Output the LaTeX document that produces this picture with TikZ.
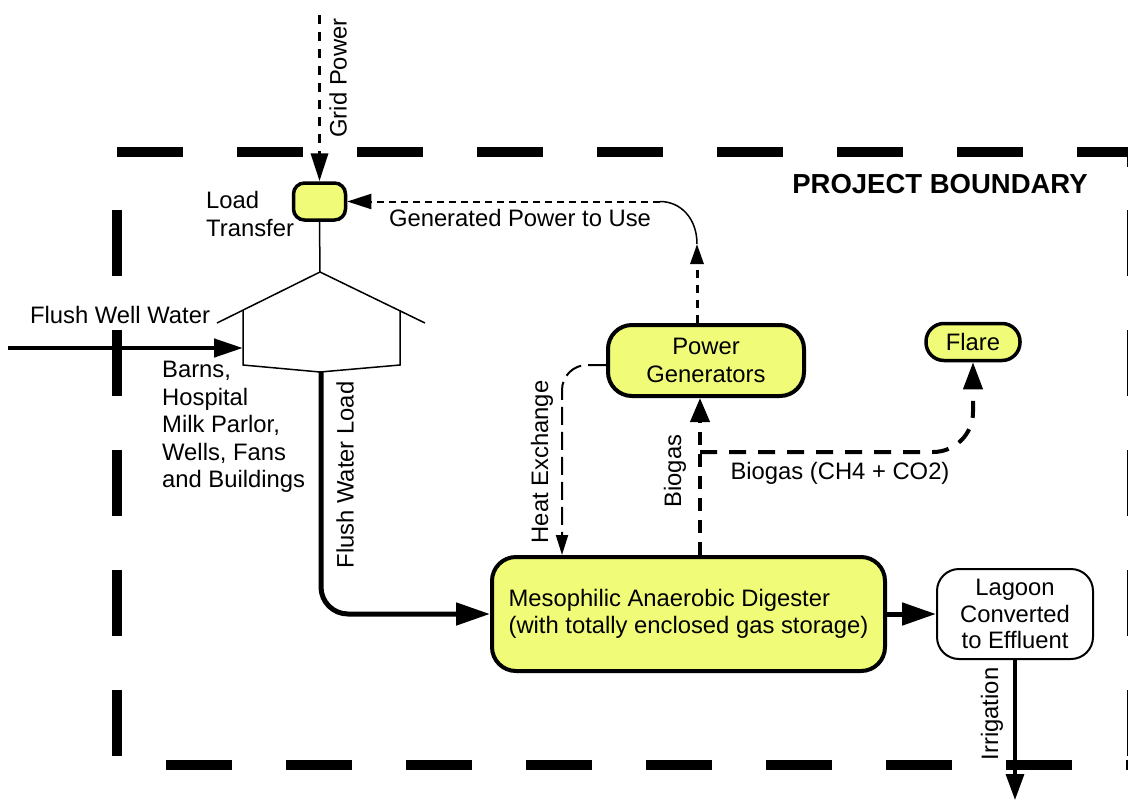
\documentclass[tikz,border=0pt]{standalone}
\usepackage{fontspec}
\setmainfont{Liberation Sans}
\usetikzlibrary{arrows.meta}
\definecolor{boxyellow}{RGB}{240,252,120}
\begin{document}
\begin{tikzpicture}[x=1pt,y=-1pt,
  lbl/.style={font=\fontsize{23.8}{27.5}\selectfont, inner sep=0pt},
  ybox/.style={draw, fill=boxyellow, line width=4pt, font=\fontsize{23.8}{27.5}\selectfont, inner sep=0pt},
  bnd/.style={line width=10pt, dash pattern=on 66pt off 54pt},
  thickflow/.style={line width=5pt, -{Triangle[length=34pt,width=22pt]}},
]
\useasboundingbox (0,0) rectangle (1128,801);

% project boundary
\begin{scope}
\clip (0,0) rectangle (1128,801);
\draw[bnd] (117,152) -- (1140,152);
\draw[bnd] (117,210) -- (117,770);
\draw[bnd] (166,765) -- (1140,765);
\draw[line width=10pt] (1132,147) -- (1132,167);
\draw[bnd] (1132,210) -- (1132,770);
\end{scope}
\node[font=\bfseries\fontsize{27.5}{30}\selectfont, inner sep=0pt] (pb) at (940,184) {PROJECT BOUNDARY};

% nodes
\node[ybox, line width=3.5pt, minimum width=52pt, minimum height=37pt, rounded corners=11pt] (lt) at (319.5,201.5) {};
\node[ybox, minimum width=196pt, minimum height=71pt, rounded corners=24pt, align=center] (gen) at (706,360.5) {Power\\Generators};
\node[ybox, line width=3.5pt, minimum width=94pt, minimum height=37pt, rounded corners=18pt] (flare) at (973,342) {Flare};
\node[ybox, minimum width=393pt, minimum height=114pt, rounded corners=24pt, align=left] (dig) at (688.5,614) {Mesophilic Anaerobic Digester\\(with totally enclosed gas storage)};
\node[draw, line width=2pt, fill=white, minimum width=156pt, minimum height=90pt, rounded corners=22pt, align=center, font=\fontsize{23.8}{26.5}\selectfont, inner sep=0pt] (lag) at (1015,614) {Lagoon\\Converted\\to Effluent};

% barn
\coordinate (barntop) at (320,272);
\coordinate (barnbot) at (321,372);
\coordinate (barnin) at (243,348);
\draw[line width=1.5pt] (217,323) -- (barntop) -- (425,323);
\draw[line width=1.5pt, line join=miter] (243,310) -- (243,365) -- (320,372) -- (400,365) -- (400,310);

% coordinates
\coordinate (gp) at (319.5,15);
\coordinate (fw) at (8,348);
\coordinate (garr) at (697,244);
\coordinate (gcurve) at (660,201.5);
\coordinate (hx) at (562,0);
\coordinate (bx) at (700,0);
\coordinate (bj) at (700,452);
\coordinate (irr) at (1015,800);

% grid power
\draw[line width=3.5pt, dash pattern=on 9pt off 8pt, -{Triangle[length=28pt,width=17pt]}] (gp) -- (lt.north);
\draw[line width=1.5pt] (lt.south) -- (barntop);

% flush well water
\draw[line width=4.5pt, -{Triangle[length=29pt,width=18pt]}] (fw) -- (barnin);

% flush water load
\draw[thickflow, rounded corners=27pt] (barnbot) |- (dig.west);

% digester to lagoon
\draw[thickflow] (dig.east) -- (lag.west);

% irrigation
\draw[line width=3.3pt, -{Triangle[length=26pt,width=18pt]}] (lag.south) -- (irr);

% generated power
\draw[line width=3pt, dash pattern=on 8pt off 7pt, -{Triangle[length=20pt,width=13pt]}] (gen.north -| garr) -- (garr);
\draw[line width=1.5pt] (garr) .. controls (697,218.1) and (680.4,201.5) .. (gcurve);
\draw[line width=2pt, dash pattern=on 7pt off 5pt, -{Triangle[length=24pt,width=15pt]}] (gcurve) -- (lt.east);

% heat exchange
\draw[line width=2pt, dash pattern=on 18pt off 7pt, rounded corners=25pt, -{Triangle[length=20pt,width=12pt]}] ([yshift=-4.5pt]gen.west) -| (hx |- dig.north);

% biogas
\draw[line width=4pt, dash pattern=on 13pt off 9pt, -{Triangle[length=24pt,width=19pt]}] (bx |- dig.north) -- (bx |- gen.south);
\draw[line width=4pt, dash pattern=on 17pt off 12pt, rounded corners=40pt, -{Triangle[length=27pt,width=19pt]}] (bj) -| (flare.south);

% labels
\node[lbl, rotate=90] (lgp) at (338,78) {Grid Power};
\node[lbl, anchor=west, align=left] (llt) at (206,214) {Load\\Transfer};
\node[lbl] (lgen) at (520,218) {Generated Power to Use};
\node[lbl] (lfw) at (120,315) {Flush Well Water};
\node[lbl, anchor=west, align=left] (lbarn) at (162,427) {Barns,\\Hospital\\Milk Parlor,\\Wells, Fans\\and Buildings};
\node[lbl, rotate=90] (lfwl) at (345,475) {Flush Water Load};
\node[lbl, rotate=90] (lhx) at (542,462) {Heat Exchange};
\node[lbl, rotate=90] (lbg) at (675,471) {Biogas};
\node[lbl] (lbg2) at (840,473) {Biogas (CH4 + CO2)};
\node[lbl, rotate=90] (lirr) at (992,714) {Irrigation};
\end{tikzpicture}
\end{document}
